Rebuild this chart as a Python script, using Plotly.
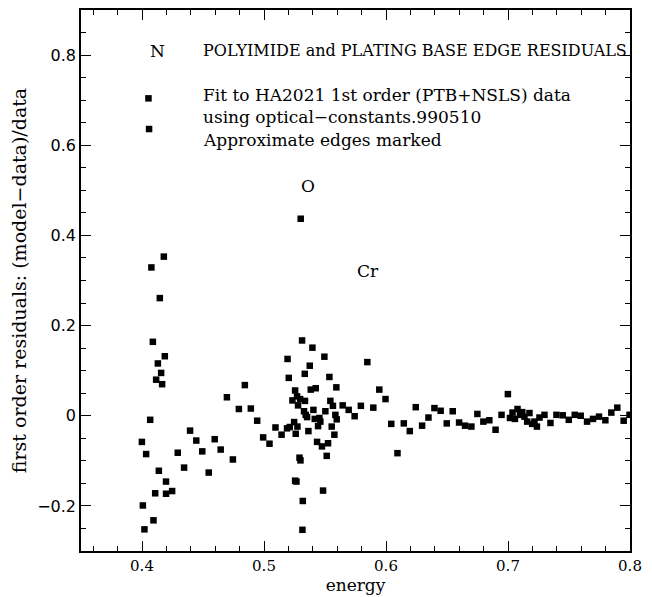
import plotly.graph_objects as go

# energy values (x) and residuals (y)
energy = [
    0.4053, 0.4058, 0.4179, 0.4077, 0.4146, 0.4089, 0.4187, 0.4130, 0.4157, 0.4116,
    0.4165, 0.4067, 0.4394, 0.3999, 0.4445, 0.4034, 0.4293, 0.4345, 0.4138, 0.4197,
    0.4108, 0.4197, 0.4247, 0.4007, 0.4094, 0.4020,
    0.5301,
    0.5312, 0.5397, 0.5495, 0.5193, 0.5847, 0.5375, 0.5334, 0.5203, 0.5536, 0.4843,
    0.5383, 0.5424, 0.5593, 0.5945, 0.5255, 0.4696, 0.5271, 0.5996, 0.5233, 0.5296,
    0.5336, 0.5544, 0.5279, 0.5565, 0.5645, 0.5794, 0.5896, 0.4794, 0.4892, 0.5694,
    0.5405, 0.5503, 0.5328, 0.5342, 0.5353, 0.5585, 0.5743, 0.5596, 0.5416, 0.5454,
    0.5462, 0.4944, 0.6043, 0.5247, 0.5443, 0.5555, 0.5094, 0.5189, 0.5211, 0.5274,
    0.5364, 0.5144, 0.5260, 0.5577, 0.4993, 0.5045, 0.5435, 0.5475, 0.5525, 0.4596,
    0.4494, 0.4645, 0.6094, 0.5514, 0.5291, 0.5299, 0.4745, 0.4547, 0.5255, 0.5266,
    0.5484, 0.5318, 0.5315,
    0.6146, 0.6195, 0.6244, 0.6296, 0.6348, 0.6397, 0.6448, 0.6498, 0.6547, 0.6599,
    0.6648, 0.6700, 0.6749, 0.6798, 0.6847, 0.6898, 0.6947, 0.6999, 0.7016, 0.7037,
    0.7057, 0.7078, 0.7098, 0.7117, 0.7135, 0.7157, 0.7176, 0.7198, 0.7217, 0.7237,
    0.7258, 0.7299, 0.7348, 0.7397, 0.7449, 0.7498, 0.7547, 0.7596, 0.7648, 0.7697,
    0.7746, 0.7798, 0.7847, 0.7896, 0.7948, 0.7996,
]
residuals = [
    0.704, 0.636, 0.353, 0.329, 0.261, 0.164, 0.132, 0.116, 0.095, 0.080,
    0.070, -0.009, -0.033, -0.058, -0.055, -0.085, -0.082, -0.115, -0.122, -0.146,
    -0.172, -0.173, -0.167, -0.199, -0.232, -0.252,
    0.437,
    0.167, 0.151, 0.131, 0.126, 0.119, 0.111, 0.093, 0.084, 0.086, 0.068,
    0.058, 0.061, 0.063, 0.058, 0.056, 0.041, 0.043, 0.037, 0.034, 0.037,
    0.033, 0.033, 0.023, 0.022, 0.023, 0.022, 0.018, 0.015, 0.016, 0.013,
    0.013, 0.010, 0.010, 0.002, -0.003, 0.002, -0.001, -0.008, -0.007, -0.005,
    -0.013, -0.011, -0.018, -0.014, -0.023, -0.024, -0.026, -0.028, -0.025, -0.024,
    -0.034, -0.042, -0.040, -0.042, -0.048, -0.062, -0.058, -0.068, -0.061, -0.052,
    -0.079, -0.075, -0.083, -0.089, -0.093, -0.099, -0.097, -0.126, -0.144, -0.146,
    -0.166, -0.189, -0.253,
    -0.017, -0.034, 0.019, -0.022, -0.004, 0.017, 0.011, -0.017, 0.010, -0.015,
    -0.022, -0.024, 0.004, -0.013, -0.010, -0.031, 0.002, 0.048, -0.005, 0.007,
    -0.007, 0.015, 0.002, 0.008, -0.002, -0.013, 0.006, -0.018, -0.013, -0.024,
    -0.004, 0.002, -0.016, 0.002, 0.001, -0.009, 0.002, 0.000, -0.013, -0.007,
    -0.002, -0.010, 0.007, 0.018, -0.011, 0.002,
]

edge_labels = ["N", "O", "Cr"]
edge_x = [0.4124, 0.536, 0.585]
edge_y = [0.81, 0.51, 0.32]

text_lines = [
    "POLYIMIDE and PLATING BASE EDGE RESIDUALS",
    "Fit to HA2021 1st order (PTB+NSLS) data",
    "using optical\u2212constants.990510",
    "Approximate edges marked",
]
text_sizes = [16, 17, 17, 17]
text_y = [0.81, 0.712, 0.662, 0.612]
text_x = 0.4485

serif = "DejaVu Serif"
sans = "DejaVu Sans"

fig = go.Figure()
fig.add_trace(go.Scatter(
    x=energy, y=residuals, mode="markers",
    marker=dict(symbol="square", size=6.5, color="black", line=dict(width=0)),
    showlegend=False, hoverinfo="skip",
))

for lab, ex, ey in zip(edge_labels, edge_x, edge_y):
    fig.add_annotation(x=ex, y=ey, text=lab, showarrow=False,
                       xanchor="center", yanchor="middle",
                       font=dict(family=serif, size=17, color="black"))
for line, ty, ts in zip(text_lines, text_y, text_sizes):
    fig.add_annotation(x=text_x, y=ty, text=line, showarrow=False,
                       xanchor="left", yanchor="middle",
                       font=dict(family=serif, size=ts, color="black"))

axis_common = dict(
    showgrid=False, zeroline=False, showline=True, linecolor="black", linewidth=1.5,
    ticks="inside", ticklen=10, tickwidth=1.2, tickcolor="black", mirror="allticks",
    automargin=False,
)

fig.update_xaxes(
    range=[0.35, 0.8], dtick=0.1, tick0=0,
    minor=dict(ticks="inside", dtick=0.02, ticklen=5, tickwidth=1, tickcolor="black", showgrid=False),
    tickfont=dict(family=serif, size=15, color="black"),
    title=dict(text="energy", font=dict(family=serif, size=17, color="black"), standoff=0),
    **axis_common,
)
fig.update_yaxes(
    range=[-0.3, 0.9], dtick=0.2, tick0=0,
    minor=dict(ticks="inside", dtick=0.05, ticklen=5, tickwidth=1, tickcolor="black", showgrid=False),
    tickfont=dict(family=sans, size=16, color="black"),
    title=dict(text="first order residuals: (model\u2212data)/data",
               font=dict(family=serif, size=19, color="black"), standoff=8),
    **axis_common,
)

# page body has an 8px default margin, so the figure is sized to fit the window
fig.update_layout(
    width=644, height=589,
    margin=dict(l=73, r=22, t=2, b=46),
    paper_bgcolor="white", plot_bgcolor="white",
)

fig.write_html("out.html")
